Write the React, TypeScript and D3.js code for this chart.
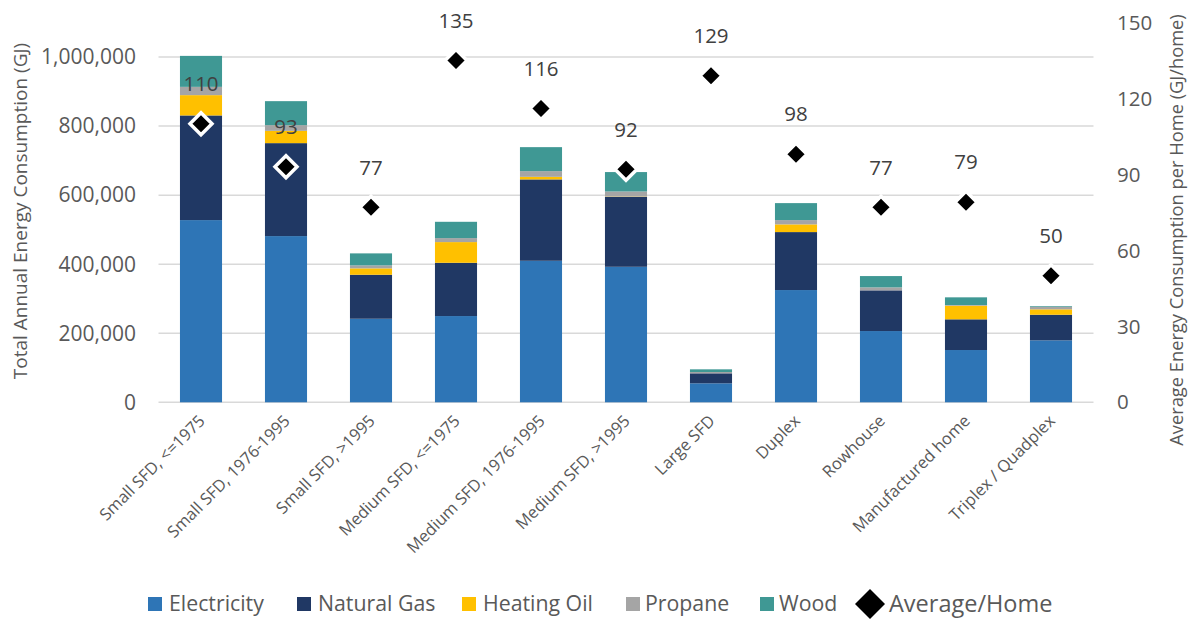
import React from "react";
import * as d3 from "d3";

const categories = [
  "Small SFD, <=1975",
  "Small SFD, 1976-1995",
  "Small SFD, >1995",
  "Medium SFD, <=1975",
  "Medium SFD, 1976-1995",
  "Medium SFD, >1995",
  "Large SFD",
  "Duplex",
  "Rowhouse",
  "Manufactured home",
  "Triplex / Quadplex",
];

const electricity = [527700, 481400, 242000, 249800, 409900, 392500, 55000, 325100, 206400, 151400, 179500];
const naturalGas = [303100, 269200, 127400, 154300, 235600, 202600, 28900, 167900, 117800, 88900, 74100];
const heatingOil = [58800, 35600, 18500, 59900, 7500, 1000, 0, 22300, 0, 39400, 15600];
const propane = [24000, 16500, 8700, 11600, 16500, 14500, 3800, 12400, 8700, 2000, 7500];
const wood = [89700, 69500, 34700, 47200, 69500, 56200, 7800, 49200, 32700, 22300, 2000];
const averagePerHome = [110, 93, 77, 135, 116, 92, 129, 98, 77, 79, 50];

const leftTicks = [0, 200000, 400000, 600000, 800000, 1000000];
const rightTicks = [0, 30, 60, 90, 120, 150];

const seriesNames = ["Electricity", "Natural Gas", "Heating Oil", "Propane", "Wood"];
const seriesColors = ["#2E75B6", "#203864", "#FFC000", "#A5A5A5", "#3F9894"];

const FONT = "'Open Sans', 'Noto Sans', sans-serif";

export default function App() {
  const W = 1188;
  const H = 619;
  const left = 158.5;
  const right = 1093.5;
  const top = 22.5;
  const bottom = 402.3;

  const x = d3.scaleBand<string>().domain(categories).range([left, right]).paddingInner(0.505).paddingOuter(0.2525);
  const yL = d3.scaleLinear().domain([0, 1100000]).range([bottom, top]);
  const yR = d3.scaleLinear().domain([0, 150]).range([bottom, top]);

  const rows = categories.map((c, i) => ({
    cat: c,
    Electricity: electricity[i],
    "Natural Gas": naturalGas[i],
    "Heating Oil": heatingOil[i],
    Propane: propane[i],
    Wood: wood[i],
  }));
  const stacked = d3.stack<any>().keys(seriesNames)(rows);
  const fmt = d3.format(",");

  const diamond = (cx: number, cy: number, r: number) =>
    `M${cx},${cy - r}L${cx + r},${cy}L${cx},${cy + r}L${cx - r},${cy}Z`;

  const legendItems = [
    { name: "Electricity", sx: 148, tx: 169 },
    { name: "Natural Gas", sx: 297, tx: 318 },
    { name: "Heating Oil", sx: 462, tx: 483 },
    { name: "Propane", sx: 626, tx: 645 },
    { name: "Wood", sx: 760, tx: 779 },
  ];

  return (
    <svg width={W} height={H} style={{ position: "absolute", left: 0, top: 0, background: "#fff" }} fontFamily={FONT}>
      <rect width={W} height={H} fill="#fff" />
      {leftTicks.map((t) => (
        <g key={t}>
          <line x1={left} x2={right} y1={yL(t)} y2={yL(t)} stroke="#D9D9D9" strokeWidth={1.5} />
          <text x={136} y={yL(t)} dy="0.35em" textAnchor="end" fontSize={21} fill="#595959">
            {fmt(t)}
          </text>
        </g>
      ))}
      {rightTicks.map((t) => (
        <text key={t} x={1117} y={yR(t)} dy="0.35em" textAnchor="start" fontSize={20.5} fill="#595959">
          {t}
        </text>
      ))}
      <text
        transform={`translate(20,211) rotate(-90)`}
        textAnchor="middle"
        dy="0.35em"
        fontSize={19}
        fill="#595959"
      >
        Total Annual Energy Consumption (GJ)
      </text>
      <text
        transform={`translate(1177,230) rotate(-90)`}
        textAnchor="middle"
        dy="0.35em"
        fontSize={18.3}
        fill="#595959"
      >
        Average Energy Consumption per Home (GJ/home)
      </text>

      {stacked.map((s, si) => (
        <g key={s.key} fill={seriesColors[si]}>
          {s.map((d, i) => {
            const h = yL(d[0]) - yL(d[1]);
            if (h <= 0) return null;
            return (
              <rect
                key={i}
                x={x(categories[i])!}
                width={x.bandwidth()}
                y={yL(d[1])}
                height={h}
              />
            );
          })}
        </g>
      ))}

      {categories.map((c, i) => {
        const cx = x(c)! + x.bandwidth() / 2;
        return (
          <text
            key={c}
            transform={`translate(${cx + 5},${422}) rotate(-45)`}
            textAnchor="end"
            fontSize={16.5}
            fill="#595959"
          >
            {c}
          </text>
        );
      })}

      {averagePerHome.map((v, i) => {
        const cx = x(categories[i])! + x.bandwidth() / 2;
        const cy = yR(v);
        return (
          <g key={i}>
            <path d={diamond(cx, cy, 11)} fill="#000" stroke="#fff" strokeWidth={3.5} />
            <text x={cx} y={cy - 40} dy="0.35em" textAnchor="middle" fontSize={20.5} fill="#404040">
              {v}
            </text>
          </g>
        );
      })}

      {legendItems.map((l, i) => (
        <g key={l.name}>
          <rect x={l.sx} y={597} width={14} height={14} fill={seriesColors[i]} />
          <text x={l.tx} y={604} dy="0.35em" fontSize={21.3} fill="#595959">
            {l.name}
          </text>
        </g>
      ))}
      <path d={diamond(870, 604, 15)} fill="#000" />
      <text x={889} y={604} dy="0.35em" fontSize={23.5} fill="#595959">
        Average/Home
      </text>
    </svg>
  );
}
